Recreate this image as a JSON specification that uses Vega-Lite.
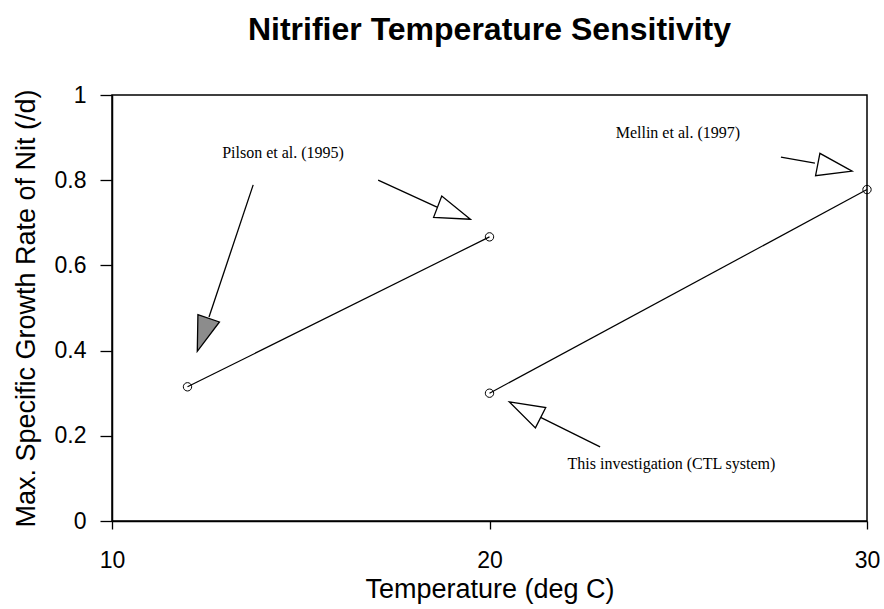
{
  "$schema": "https://vega.github.io/schema/vega-lite/v6.json",
  "width": 755,
  "height": 426,
  "autosize": {"type": "none"},
  "padding": {"left": 112, "top": 95, "right": 17, "bottom": 88},
  "background": "white",
  "title": {
    "text": "Nitrifier Temperature Sensitivity",
    "font": "Liberation Sans",
    "fontSize": 32,
    "fontWeight": "bold",
    "color": "black",
    "anchor": "middle",
    "offset": 37
  },
  "config": {
    "view": {"stroke": "black", "strokeWidth": 1.5},
    "axis": {
      "grid": false,
      "domainColor": "black",
      "domainWidth": 1.5,
      "tickColor": "black",
      "tickWidth": 1.3,
      "labelFont": "Liberation Sans",
      "labelFontSize": 23,
      "labelColor": "black",
      "labelFlush": false,
      "labelOverlap": false,
      "titleFont": "Liberation Sans",
      "titleFontSize": 27,
      "titleFontWeight": "normal",
      "titleColor": "black"
    }
  },
  "datasets": {
    "series": [
      {"temp": 12, "rate": 0.315, "study": "Pilson et al. (1995)"},
      {"temp": 20, "rate": 0.667, "study": "Pilson et al. (1995)"},
      {"temp": 20, "rate": 0.30, "study": "This investigation / Mellin"},
      {"temp": 30, "rate": 0.778, "study": "This investigation / Mellin"}
    ],
    "arrows": [
      {"x": 13.74, "y": 0.789, "x2": 12.57, "y2": 0.479},
      {"x": 17.05, "y": 0.800, "x2": 18.61, "y2": 0.737},
      {"x": 27.72, "y": 0.854, "x2": 28.62, "y2": 0.840},
      {"x": 22.93, "y": 0.174, "x2": 21.34, "y2": 0.244}
    ],
    "heads": [
      {"x": 12.41, "y": 0.437, "angle": 199, "kind": "filled"},
      {"x": 19.06, "y": 0.723, "angle": 111, "kind": "open"},
      {"x": 29.15, "y": 0.829, "angle": 101, "kind": "open"},
      {"x": 20.94, "y": 0.261, "angle": 297, "kind": "open"}
    ],
    "labels": [
      {"x": 14.53, "y": 0.864, "label": "Pilson et al. (1995)"},
      {"x": 24.99, "y": 0.911, "label": "Mellin et al. (1997)"},
      {"x": 24.82, "y": 0.134, "label": "This investigation (CTL system)"}
    ]
  },
  "layer": [
    {
      "data": {"name": "series"},
      "mark": {"type": "line", "color": "black", "strokeWidth": 1.2},
      "encoding": {
        "x": {"field": "temp", "type": "quantitative", "title": "Temperature (deg C)", "scale": {"domain": [10, 30], "nice": false, "zero": false}, "axis": {"values": [10, 20, 30], "format": "d", "tickSize": 8, "labelPadding": 20, "titlePadding": 4}},
        "y": {"field": "rate", "type": "quantitative", "title": "Max. Specific Growth Rate of Nit (/d)", "scale": {"domain": [0, 1], "nice": false}, "axis": {"values": [0, 0.2, 0.4, 0.6, 0.8, 1], "format": "~g", "tickSize": 12, "labelPadding": 14, "titlePadding": 14}},
        "detail": {"field": "study", "type": "nominal"}
      }
    },
    {
      "data": {"name": "series"},
      "mark": {"type": "point", "shape": "circle", "filled": false, "stroke": "black", "strokeWidth": 1, "size": 70, "opacity": 1},
      "encoding": {
        "x": {"field": "temp", "type": "quantitative", "title": "Temperature (deg C)", "scale": {"domain": [10, 30], "nice": false, "zero": false}, "axis": {"values": [10, 20, 30], "format": "d", "tickSize": 8, "labelPadding": 20, "titlePadding": 4}},
        "y": {"field": "rate", "type": "quantitative", "title": "Max. Specific Growth Rate of Nit (/d)", "scale": {"domain": [0, 1], "nice": false}, "axis": {"values": [0, 0.2, 0.4, 0.6, 0.8, 1], "format": "~g", "tickSize": 12, "labelPadding": 14, "titlePadding": 14}}
      }
    },
    {
      "data": {"name": "arrows"},
      "mark": {"type": "rule", "color": "black", "strokeWidth": 1.3},
      "encoding": {
        "x": {"field": "x", "type": "quantitative", "title": "Temperature (deg C)", "scale": {"domain": [10, 30], "nice": false, "zero": false}, "axis": {"values": [10, 20, 30], "format": "d", "tickSize": 8, "labelPadding": 20, "titlePadding": 4}},
        "y": {"field": "y", "type": "quantitative", "title": "Max. Specific Growth Rate of Nit (/d)", "scale": {"domain": [0, 1], "nice": false}, "axis": {"values": [0, 0.2, 0.4, 0.6, 0.8, 1], "format": "~g", "tickSize": 12, "labelPadding": 14, "titlePadding": 14}},
        "x2": {"field": "x2"},
        "y2": {"field": "y2"}
      }
    },
    {
      "data": {"name": "heads"},
      "mark": {"type": "point", "shape": "M0,-1L0.65,1L-0.65,1Z", "filled": true, "size": 1225, "stroke": "black", "strokeWidth": 1.3, "opacity": 1},
      "encoding": {
        "x": {"field": "x", "type": "quantitative", "title": "Temperature (deg C)", "scale": {"domain": [10, 30], "nice": false, "zero": false}, "axis": {"values": [10, 20, 30], "format": "d", "tickSize": 8, "labelPadding": 20, "titlePadding": 4}},
        "y": {"field": "y", "type": "quantitative", "title": "Max. Specific Growth Rate of Nit (/d)", "scale": {"domain": [0, 1], "nice": false}, "axis": {"values": [0, 0.2, 0.4, 0.6, 0.8, 1], "format": "~g", "tickSize": 12, "labelPadding": 14, "titlePadding": 14}},
        "angle": {"field": "angle", "type": "quantitative", "scale": null},
        "fill": {"field": "kind", "type": "nominal", "scale": {"domain": ["filled", "open"], "range": ["#8c8c8c", "white"]}, "legend": null}
      }
    },
    {
      "data": {"name": "labels"},
      "mark": {"type": "text", "font": "Liberation Serif", "fontSize": 16, "color": "black", "align": "center", "baseline": "middle"},
      "encoding": {
        "x": {"field": "x", "type": "quantitative", "title": "Temperature (deg C)", "scale": {"domain": [10, 30], "nice": false, "zero": false}, "axis": {"values": [10, 20, 30], "format": "d", "tickSize": 8, "labelPadding": 20, "titlePadding": 4}},
        "y": {"field": "y", "type": "quantitative", "title": "Max. Specific Growth Rate of Nit (/d)", "scale": {"domain": [0, 1], "nice": false}, "axis": {"values": [0, 0.2, 0.4, 0.6, 0.8, 1], "format": "~g", "tickSize": 12, "labelPadding": 14, "titlePadding": 14}},
        "text": {"field": "label", "type": "nominal"}
      }
    }
  ]
}
